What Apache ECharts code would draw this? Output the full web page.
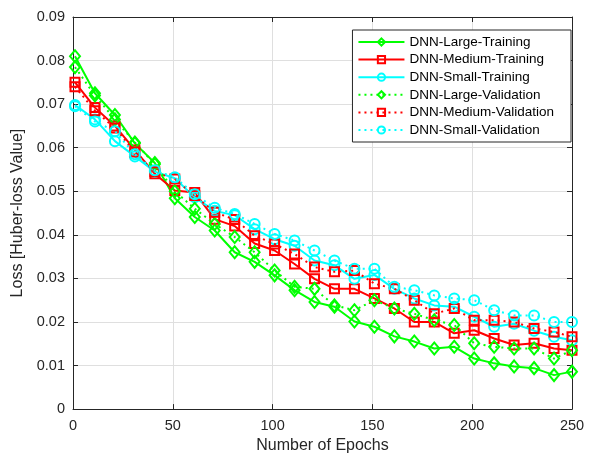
<!DOCTYPE html>
<html>
<head>
<meta charset="utf-8">
<script src="https://cdn.jsdelivr.net/npm/echarts@6/dist/echarts.min.js"></script>
<style>html,body{margin:0;padding:0;background:#fff}#c{width:593px;height:459px}</style>
</head>
<body>
<div id="c"></div>
<script>
const epochs = [1,11,21,31,41,51,61,71,81,91,101,111,121,131,141,151,161,171,181,191,201,211,221,231,241,250];
const largeTraining = [0.0810,0.0725,0.0675,0.0610,0.0565,0.0484,0.0441,0.0410,0.0360,0.0338,0.0307,0.0273,0.0246,0.0235,0.0201,0.0189,0.0167,0.0155,0.0139,0.0143,0.0116,0.0105,0.0098,0.0094,0.0078,0.0086];
const mediumTraining = [0.0750,0.0692,0.0650,0.0595,0.0540,0.0502,0.0497,0.0436,0.0420,0.0380,0.0364,0.0333,0.0299,0.0276,0.0276,0.0254,0.0231,0.0200,0.0200,0.0174,0.0181,0.0162,0.0147,0.0151,0.0139,0.0135];
const smallTraining = [0.0698,0.0665,0.0615,0.0580,0.0545,0.0530,0.0486,0.0455,0.0445,0.0413,0.0390,0.0375,0.0341,0.0330,0.0299,0.0308,0.0276,0.0254,0.0238,0.0235,0.0212,0.0189,0.0196,0.0180,0.0166,0.0158];
const largeValidation = [0.0785,0.0720,0.0665,0.0612,0.0562,0.0500,0.0460,0.0425,0.0395,0.0360,0.0318,0.0281,0.0276,0.0238,0.0227,0.0250,0.0231,0.0219,0.0204,0.0193,0.0151,0.0143,0.0139,0.0139,0.0116,0.0135];
const mediumValidation = [0.0740,0.0685,0.0645,0.0590,0.0545,0.0528,0.0490,0.0452,0.0435,0.0398,0.0379,0.0356,0.0326,0.0315,0.0318,0.0288,0.0276,0.0250,0.0219,0.0231,0.0204,0.0204,0.0200,0.0185,0.0177,0.0166];
const smallValidation = [0.0695,0.0660,0.0638,0.0585,0.0548,0.0532,0.0493,0.0462,0.0448,0.0425,0.0402,0.0387,0.0364,0.0341,0.0322,0.0322,0.0281,0.0273,0.0261,0.0254,0.0250,0.0227,0.0215,0.0215,0.0200,0.0200];
const seriesNames = ['DNN-Large-Training','DNN-Medium-Training','DNN-Small-Training','DNN-Large-Validation','DNN-Medium-Validation','DNN-Small-Validation'];
const xTicks = [0,50,100,150,200,250];
const yTicks = [0,0.01,0.02,0.03,0.04,0.05,0.06,0.07,0.08,0.09];

const GREEN = '#00ff00', RED = '#ff0000', CYAN = '#00ffff';
const AX = '#262626';
const FONT = '"Liberation Sans", Arial, Helvetica, sans-serif';
const valuesList = [largeTraining, mediumTraining, smallTraining, largeValidation, mediumValidation, smallValidation];
const colors = [GREEN, RED, CYAN, GREEN, RED, CYAN];
const symbols = ['diamond','rect','circle','diamond','rect','circle'];
const sizes = [[10,12],9,10,[10,12],9,10];

const series = valuesList.map((vals, i) => ({
  name: seriesNames[i],
  type: 'line',
  data: epochs.map((e, j) => [e, vals[j]]),
  symbol: symbols[i],
  symbolSize: sizes[i],
  showAllSymbol: true,
  lineStyle: { color: colors[i], width: 2, type: i < 3 ? 'solid' : [2, 4] },
  itemStyle: { color: 'rgba(255,255,255,0)', borderColor: colors[i], borderWidth: 2 },
  emphasis: { disabled: true },
  animation: false,
  z: 3 + i
}));

const chart = echarts.init(document.getElementById('c'), null, { renderer: 'canvas' });
const baseAxis = {
  axisLine: { show: true, onZero: false, lineStyle: { color: AX, width: 1 } },
  axisTick: { show: true, inside: true, length: 5, lineStyle: { color: AX } },
};
chart.setOption({
  animation: false,
  backgroundColor: '#fff',
  textStyle: { fontFamily: FONT },
  grid: { left: 73, right: 21, top: 17, bottom: 48, containLabel: false },
  legend: {
    data: seriesNames,
    orient: 'vertical',
    right: 22,
    top: 30,
    itemWidth: 46,
    itemHeight: 9,
    itemGap: 3.6,
    padding: [5, 17, 5, 5],
    backgroundColor: '#fff',
    borderColor: AX,
    borderWidth: 1,
    textStyle: { fontSize: 13.5, lineHeight: 14, color: '#000', fontFamily: FONT },
    selectedMode: false
  },
  xAxis: [
    Object.assign({}, baseAxis, {
      type: 'value', min: 0, max: 250, interval: 50, position: 'bottom',
      name: 'Number of Epochs', nameLocation: 'middle', nameGap: 27,
      nameTextStyle: { fontSize: 16, color: AX, fontFamily: FONT },
      axisLabel: { fontSize: 14.5, color: AX, margin: 9, fontFamily: FONT, formatter: v => xTicks.includes(v) ? String(v) : '' },
      splitLine: { show: true, lineStyle: { color: '#dfdfdf', width: 1 } }
    }),
    Object.assign({}, baseAxis, {
      type: 'value', min: 0, max: 250, interval: 50, position: 'top',
      axisLabel: { show: false }, splitLine: { show: false }
    })
  ],
  yAxis: [
    Object.assign({}, baseAxis, {
      type: 'value', min: 0, max: 0.09, interval: 0.01, position: 'left',
      name: 'Loss [Huber-loss Value]', nameLocation: 'middle', nameGap: 40,
      nameTextStyle: { fontSize: 16, color: AX, fontFamily: FONT },
      axisLabel: { fontSize: 14.5, color: AX, margin: 8, fontFamily: FONT,
        formatter: v => { const r = Math.round(v * 100) / 100; return r === 0 ? '0' : r.toFixed(2); } },
      splitLine: { show: true, lineStyle: { color: '#dfdfdf', width: 1 } }
    }),
    Object.assign({}, baseAxis, {
      type: 'value', min: 0, max: 0.09, interval: 0.01, position: 'right',
      axisLabel: { show: false }, splitLine: { show: false }
    })
  ],
  series: series
});
</script>
</body>
</html>
